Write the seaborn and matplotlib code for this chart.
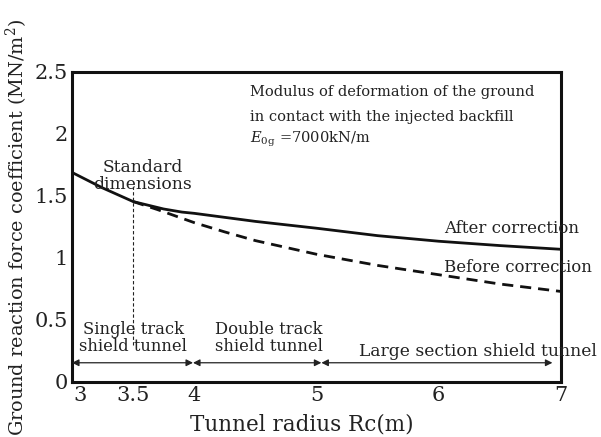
import matplotlib
matplotlib.use("Agg")
import matplotlib.pyplot as plt
import matplotlib.transforms as mtransforms
import seaborn as sns
import pandas as pd

# Data
x_after = [3.0, 3.25, 3.5, 3.75, 3.9, 4.0, 4.5, 5.0, 5.5, 6.0, 6.5, 7.0]
y_after = [1.69, 1.565, 1.455, 1.395, 1.37, 1.36, 1.295, 1.24, 1.18, 1.135, 1.10, 1.07]
x_before = [3.5, 3.7, 4.0, 4.25, 4.5, 4.75, 5.0, 5.5, 6.0, 6.5, 7.0]
y_before = [1.455, 1.39, 1.285, 1.21, 1.14, 1.085, 1.03, 0.94, 0.865, 0.79, 0.73]

x_ticks = [3, 3.5, 4, 4.5, 5, 5.5, 6, 6.5, 7]
x_tick_labels = ["3", "3.5", "4", "", "5", "", "6", "", "7"]
y_ticks = [0, 0.5, 1, 1.5, 2, 2.5]
y_tick_labels = ["0", "0.5", "1", "1.5", "2", "2.5"]

ranges = [(3.0, 3.99), (3.99, 5.04), (5.04, 6.93)]
range_labels = ["Single track\nshield tunnel", "Double track\nshield tunnel",
                "Large section shield tunnel"]

sns.set_theme(style="white")
plt.rcParams["font.family"] = ["DejaVu Serif", "DejaVu Sans"]
plt.rcParams["mathtext.fontset"] = "dejavuserif"

fig = plt.figure(figsize=(6.01, 4.37), dpi=100)
ax = fig.add_axes([0.1198, 0.1259, 0.8136, 0.7094])

df_a = pd.DataFrame({"x": x_after, "y": y_after})
df_b = pd.DataFrame({"x": x_before, "y": y_before})
sns.lineplot(data=df_a, x="x", y="y", ax=ax, color="#111111", lw=2.0)
sns.lineplot(data=df_b, x="x", y="y", ax=ax, color="#111111", lw=2.0,
             linestyle=(0, (4, 2.5)))

ax.set_xlim(3, 7)
ax.set_ylim(0, 2.5)
ax.set_xticks(x_ticks)
ax.set_xticklabels(x_tick_labels)
ax.set_yticks(y_ticks)
ax.set_yticklabels(y_tick_labels)
ax.tick_params(direction="in", length=9, width=1, colors="#222222",
               labelsize=15, pad=3)
# first x tick label sits a little right of the axis corner
first = ax.get_xticklabels()[0]
first.set_transform(first.get_transform() +
                    mtransforms.ScaledTranslation(8 / 100, 0, fig.dpi_scale_trans))
for s in ax.spines.values():
    s.set_linewidth(2.2)
    s.set_color("#111111")

ax.set_xlabel("Tunnel radius Rc(m)", fontsize=15.5, color="#222222")
ax.xaxis.set_label_coords(0.469, -0.103)
ax.set_ylabel("Ground reaction force coefficient (MN/m$^2$)", fontsize=13.9,
              color="#222222", labelpad=3)

# standard dimension marker
ax.plot([3.5, 3.5], [0.3, 1.57], color="#222222", lw=0.8, linestyle=(0, (3, 2)))
ax.text(3.58, 1.66, "Standard\ndimensions", ha="center", va="center",
        fontsize=12.3, color="#222222", linespacing=1.05)

# range arrows
for (a, b) in ranges:
    ax.annotate("", xy=(b, 0.155), xytext=(a, 0.155),
                arrowprops=dict(arrowstyle="<|-|>", color="#222222", lw=0.9,
                                mutation_scale=10, shrinkA=0, shrinkB=0))
ax.text(3.50, 0.355, range_labels[0], ha="center", va="center", fontsize=11.8,
        color="#222222", linespacing=1.0)
ax.text(4.61, 0.355, range_labels[1], ha="center", va="center", fontsize=11.8,
        color="#222222", linespacing=1.0)
ax.text(6.32, 0.245, range_labels[2], ha="center", va="center", fontsize=12.3,
        color="#222222", clip_on=False)

ax.text(6.04, 1.24, "After correction", ha="left", va="center", fontsize=12.0,
        color="#222222", clip_on=False)
ax.text(6.04, 0.92, "Before correction", ha="left", va="center", fontsize=11.9,
        color="#222222", clip_on=False)

ax.text(4.46, 2.34, "Modulus of deformation of the ground", ha="left",
        va="center", fontsize=10.5, color="#222222")
ax.text(4.46, 2.14, "in contact with the injected backfill", ha="left",
        va="center", fontsize=10.5, color="#222222")
ax.text(4.46, 1.955, "$E_{0\\mathrm{g}}$ =7000kN/m", ha="left", va="center",
        fontsize=10.5, color="#222222")

fig.savefig("out.png", dpi=100, facecolor="white")
